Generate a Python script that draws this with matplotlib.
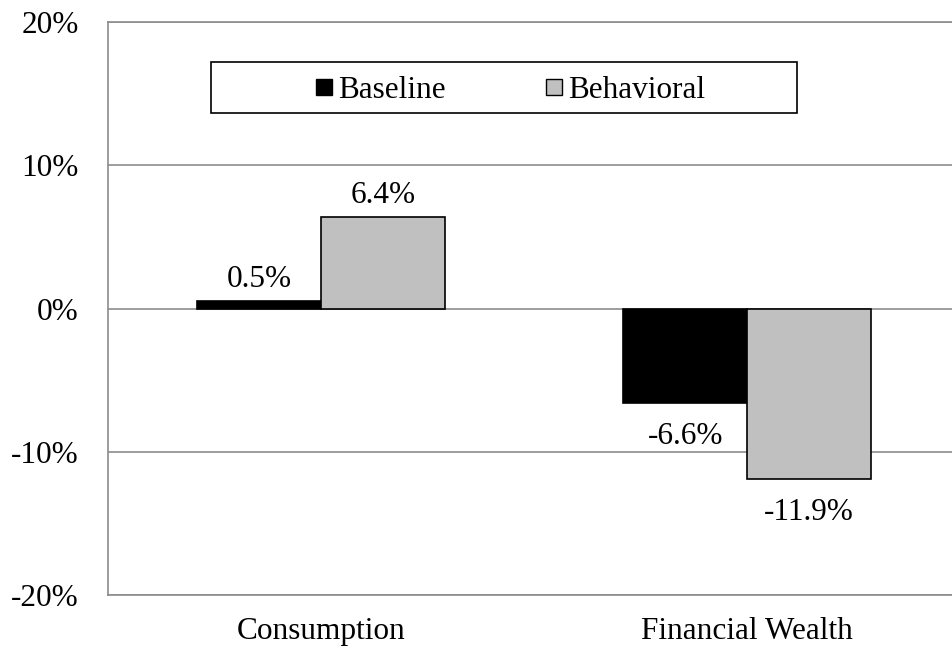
import numpy as np
import matplotlib.pyplot as plt
from matplotlib.lines import Line2D
from matplotlib.patches import Rectangle

plt.rcParams['font.family'] = ['Liberation Serif', 'DejaVu Serif']

categories = ['Consumption', 'Financial Wealth']
baseline = [0.5, -6.6]
behavioral = [6.4, -11.9]
series_names = ['Baseline', 'Behavioral']
yticks = [-20, -10, 0, 10, 20]

FS = 22.5
W, H = 952, 650
fig = plt.figure(figsize=(W/100, H/100), dpi=100)
ax = fig.add_axes([108/W, 1-595/H, 852/W, 573/H])

x = np.arange(len(categories))
bw = 0.29
ax.bar(x - bw/2, baseline, bw, color='black', edgecolor='black', lw=1.2, zorder=3)
ax.bar(x + bw/2, behavioral, bw, color='#c0c0c0', edgecolor='black', lw=1.2, zorder=3)

for xs, vals in [(x - bw/2, baseline), (x + bw/2, behavioral)]:
    for xi, v in zip(xs, vals):
        off = 5 if v > 0 else -14
        ax.annotate('%.1f%%' % v, (xi, v), xytext=(0, off), textcoords='offset points',
                    ha='center', va='bottom' if v > 0 else 'top', fontsize=FS)

ax.set_ylim(-20, 20)
ax.set_xlim(-0.5, 1.5)
ax.set_yticks(yticks)
ax.set_yticklabels(['%d%%' % t for t in yticks], fontsize=FS)
ax.set_xticks(x)
ax.set_xticklabels(categories, fontsize=FS)
ax.tick_params(axis='y', length=0, pad=21)
ax.tick_params(axis='x', length=0, pad=16)
ax.grid(axis='y', color='#8c8c8c', lw=1.2, zorder=0)
ax.spines['right'].set_visible(False)
for s in ['left', 'bottom', 'top']:
    ax.spines[s].set_color('#8c8c8c')
    ax.spines[s].set_linewidth(1.2)

# legend box
fig.patches.append(Rectangle((211/W, 1-113/H), 586/W, 51/H, transform=fig.transFigure,
                             fill=False, edgecolor='black', lw=1.2))
handles = [Line2D([], [], ls='', marker='s', ms=12, mfc='black', mec='black'),
           Line2D([], [], ls='', marker='s', ms=12, mfc='#c0c0c0', mec='black')]
fig.legend(handles, series_names, loc='center', bbox_to_anchor=(510/W, 1-90/H),
           ncol=2, frameon=False, fontsize=FS, handlelength=0.6, handletextpad=0.15,
           columnspacing=3.15)

fig.savefig('out.png', dpi=100)
